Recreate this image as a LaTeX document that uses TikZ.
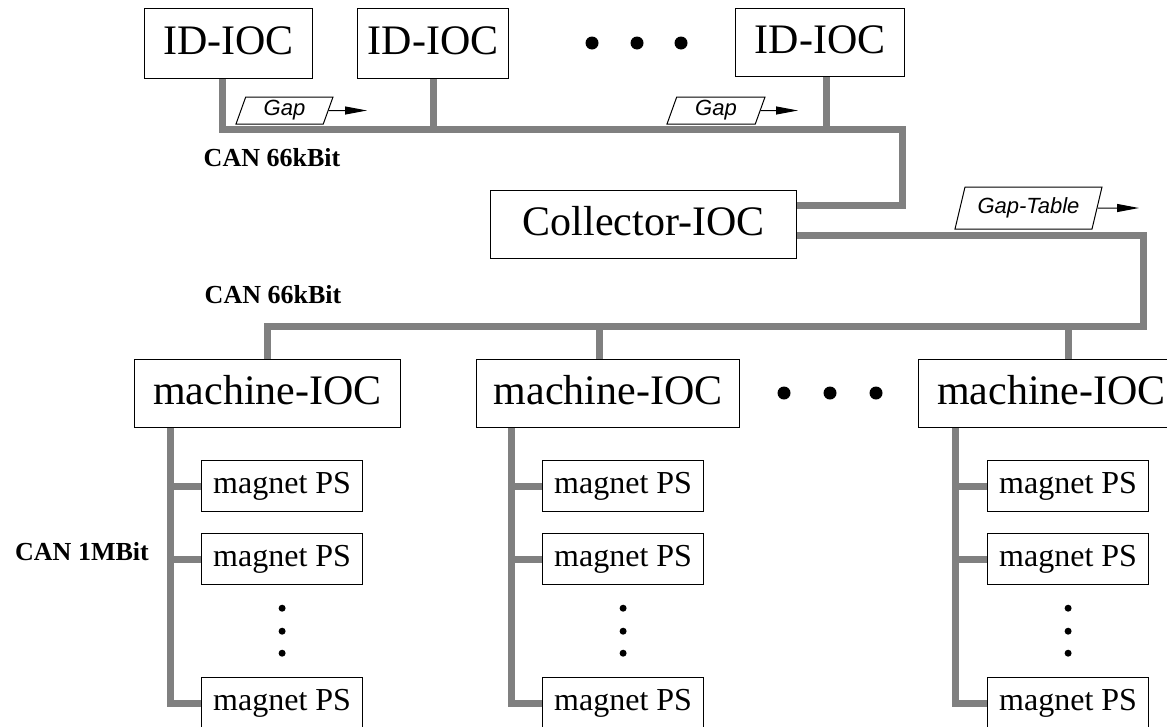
\documentclass[tikz,border=0pt]{standalone}
\usepackage{fontspec}
\setmainfont{Liberation Serif}
\newfontfamily\helvfont{Liberation Sans}
\usetikzlibrary{shapes.geometric,arrows.meta,calc}

\begin{document}
\begin{tikzpicture}[x=1pt,y=-1pt,
  ioc/.style={draw,line width=1.2pt,inner sep=0pt,anchor=north west,
    minimum height=70pt,text height=30pt,text depth=8pt,
    font=\fontsize{42}{42}\selectfont},
  psbox/.style={draw,line width=1.2pt,inner sep=0pt,anchor=north west,
    minimum width=161pt,minimum height=51pt,text height=22pt,text depth=7pt,
    font=\fontsize{32}{32}\selectfont},
  bus/.style={draw=gray,line width=7pt,line join=miter},
  msg/.style={trapezium,trapezium left angle=64,trapezium right angle=116,
    trapezium stretches body=true,draw,line width=1pt,inner sep=0pt,
    font=\helvfont\itshape\fontsize{22}{22}\selectfont},
  flow/.style={-{Triangle[length=22pt,width=8pt]},line width=1pt},
  canlbl/.style={font=\bfseries\fontsize{26}{26}\selectfont},
  bigdot/.style={circle,fill,inner sep=0pt,minimum size=13pt},
  smalldot/.style={circle,fill,inner sep=0pt,minimum size=7pt}]

\clip (0,0) rectangle (1167,726);

% ---- insertion-device IOCs ----
\node[ioc,minimum width=168pt] (id1) at (144,8) {ID-IOC};
\node[ioc,minimum width=151pt] (id2) at (357,8) {ID-IOC};
\node[ioc,minimum width=169pt,minimum height=68pt] (id3) at (735,8) {ID-IOC};
\node[bigdot] (td1) at (592,43) {};
\node[bigdot] (td2) at (637,43) {};
\node[bigdot] (td3) at (681,43) {};

% ---- collector ----
\node[ioc,minimum width=306pt,minimum height=68pt] (col) at (490,190) {Collector-IOC};

% ---- machine IOCs ----
\node[ioc,minimum width=266pt,minimum height=68pt] (m1) at (134,359) {machine-IOC};
\node[ioc,minimum width=263pt,minimum height=68pt] (m2) at (476,359) {machine-IOC};
\node[ioc,minimum width=266pt,minimum height=68pt] (m3) at (918,359) {machine-IOC};
\node[bigdot] (md1) at (784,393) {};
\node[bigdot] (md2) at (830,393) {};
\node[bigdot] (md3) at (876,393) {};

% ---- magnet power supplies ----
\foreach \c/\x in {1/201,2/542,3/987}{
  \node[psbox] (p\c1) at (\x,460) {magnet PS};
  \node[psbox] (p\c2) at (\x,533) {magnet PS};
  \node[psbox] (p\c3) at (\x,677) {magnet PS};
  \node[smalldot] (pd\c1) at ($(p\c2.south)+(0,23)$) {};
  \node[smalldot] (pd\c2) at ($(p\c2.south)+(0,46)$) {};
  \node[smalldot] (pd\c3) at ($(p\c2.south)+(0,68)$) {};
}

% ---- upper CAN bus ----
\coordinate (b1l) at (222,129);
\coordinate (b1r) at (902,129);
\coordinate (b1c) at (902,205);
\coordinate (t2) at (433,129);
\coordinate (t3) at (826,129);
\draw[bus] (b1l |- id1.south) -- (b1l) -- (b1r) -- (b1c) -- (b1c -| col.east);
\draw[bus] (t2 |- id2.south) -- (t2);
\draw[bus] (t3 |- id3.south) -- (t3);

% ---- lower CAN bus ----
\coordinate (b2a) at (1143,235);
\coordinate (b2b) at (1143,326);
\coordinate (b2c) at (267,326);
\coordinate (t5) at (599,326);
\coordinate (t6) at (1068,326);
\draw[bus] (col.east |- b2a) -- (b2a) -- (b2b) -- (b2c) -- (b2c |- m1.north);
\draw[bus] (t5) -- (t5 |- m2.north);
\draw[bus] (t6) -- (t6 |- m3.north);

% ---- 1 MBit field buses ----
\foreach \c/\x in {1/170,2/511,3/955}{
  \coordinate (v\c) at (\x,703);
  \draw[bus] (v\c |- m\c.south) -- (v\c) -- (p\c3.west |- v\c);
  \draw[bus] (v\c |- p\c1.west) -- (p\c1.west);
  \draw[bus] (v\c |- p\c2.west) -- (p\c2.west);
}

% ---- bus labels ----
\node[canlbl] (can1) at (272,158) {CAN 66kBit};
\node[canlbl] (can2) at (273,295) {CAN 66kBit};
\node[canlbl] (can3) at (82,552) {CAN 1MBit};

% ---- data flow ----
\node[msg,minimum width=97pt,minimum height=27pt] (g1) at (284.5,110.5) {Gap};
\node[msg,minimum width=98pt,minimum height=27pt] (g2) at (716,110.5) {Gap};
\node[msg,minimum width=147pt,minimum height=42pt] (gt) at (1028.5,208) {Gap-Table};
\coordinate (g1end) at (367,110.5);
\coordinate (g2end) at (798,110.5);
\coordinate (gtend) at (1139,208);
\draw[flow] (g1.east) -- (g1end);
\draw[flow] (g2.east) -- (g2end);
\draw[flow] (gt.east) -- (gtend);

\end{tikzpicture}
\end{document}
